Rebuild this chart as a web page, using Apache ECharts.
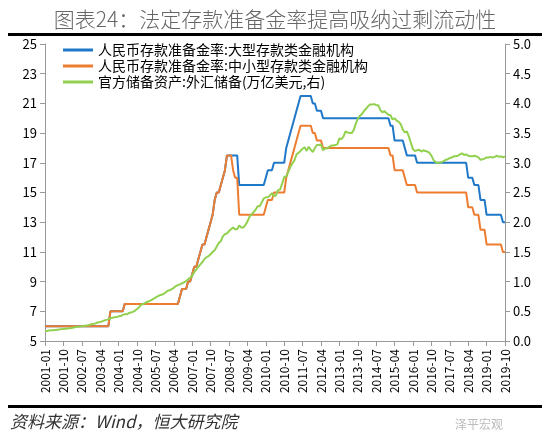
<!DOCTYPE html>
<html><head><meta charset="utf-8">
<script src="https://cdn.jsdelivr.net/npm/echarts@6/dist/echarts.min.js"></script>
<style>html,body{margin:0;padding:0;background:#fff}#c{width:550px;height:444px}</style>
</head><body><div id="c"></div>
<script>
// reserve ratio change points [month 'YYYY-MM', new value]
const largeChanges = [["2001-01",6],["2003-09",7],["2004-04",7.5],["2006-07",8],["2006-08",8.5],["2006-11",9],["2007-01",9.5],["2007-02",10],["2007-04",10.5],["2007-05",11],["2007-06",11.5],["2007-08",12],["2007-09",12.5],["2007-10",13],["2007-11",13.5],["2007-12",14.5],["2008-01",15],["2008-03",15.5],["2008-04",16],["2008-05",16.5],["2008-06",17.5],["2008-12",15.5],["2010-01",16],["2010-02",16.5],["2010-05",17],["2010-11",18],["2010-12",18.5],["2011-01",19],["2011-02",19.5],["2011-03",20],["2011-04",20.5],["2011-05",21],["2011-06",21.5],["2011-12",21],["2012-02",20.5],["2012-05",20],["2015-02",19.5],["2015-04",18.5],["2015-09",18],["2015-10",17.5],["2016-03",17],["2018-04",16],["2018-07",15.5],["2018-10",14.5],["2019-01",13.5],["2019-09",13]];
const smallChanges = [["2001-01",6],["2003-09",7],["2004-04",7.5],["2006-07",8],["2006-08",8.5],["2006-11",9],["2007-01",9.5],["2007-02",10],["2007-04",10.5],["2007-05",11],["2007-06",11.5],["2007-08",12],["2007-09",12.5],["2007-10",13],["2007-11",13.5],["2007-12",14.5],["2008-01",15],["2008-03",15.5],["2008-04",16],["2008-05",16.5],["2008-06",17.5],["2008-09",16.5],["2008-10",16],["2008-12",13.5],["2010-01",14],["2010-02",14.5],["2010-05",15],["2010-11",16],["2010-12",16.5],["2011-01",17],["2011-02",17.5],["2011-03",18],["2011-04",18.5],["2011-05",19],["2011-06",19.5],["2011-12",19],["2012-02",18.5],["2012-05",18],["2015-02",17.5],["2015-04",16.5],["2015-09",16],["2015-10",15.5],["2016-03",15],["2018-04",14],["2018-07",13.5],["2018-10",12.5],["2019-01",11.5],["2019-09",11]];
// FX reserves, trillion USD, monthly from 2001-01
const fxReserves = [
.17,.17,.175,.18,.18,.185,.19,.195,.2,.2,.205,.212,
.215,.22,.228,.235,.24,.242,.25,.255,.258,.265,.275,.286,
.292,.30,.316,.32,.33,.346,.356,.364,.384,.39,.40,.403,
.415,.42,.44,.45,.45,.47,.48,.49,.51,.54,.57,.61,
.623,.64,.66,.67,.69,.71,.73,.75,.77,.78,.79,.819,
.845,.853,.875,.895,.925,.941,.954,.972,.988,1.01,1.04,1.066,
1.10,1.16,1.20,1.25,1.29,1.33,1.38,1.41,1.43,1.46,1.50,1.528,
1.59,1.65,1.68,1.76,1.80,1.81,1.85,1.88,1.91,1.88,1.88,1.946,
1.91,1.91,1.95,2.01,2.09,2.13,2.17,2.21,2.27,2.27,2.33,2.399,
2.42,2.42,2.45,2.49,2.44,2.45,2.54,2.55,2.65,2.76,2.77,2.847,
2.93,2.99,3.04,3.14,3.17,3.20,3.24,3.26,3.20,3.27,3.22,3.18,
3.25,3.30,3.30,3.31,3.21,3.24,3.24,3.27,3.29,3.29,3.30,3.31,
3.41,3.40,3.44,3.53,3.51,3.50,3.50,3.55,3.66,3.74,3.79,3.82,
3.87,3.91,3.95,3.98,3.98,3.99,3.97,3.97,3.89,3.85,3.87,3.84,
3.81,3.80,3.73,3.75,3.71,3.69,3.65,3.56,3.51,3.53,3.44,3.33,
3.23,3.20,3.21,3.22,3.19,3.21,3.20,3.19,3.17,3.12,3.05,3.01,
2.998,3.005,3.009,3.03,3.05,3.06,3.08,3.09,3.11,3.11,3.12,3.14,
3.16,3.13,3.14,3.12,3.11,3.11,3.12,3.11,3.09,3.05,3.06,3.07,
3.09,3.09,3.10,3.09,3.10,3.12,3.10,3.11,3.09,3.11];
const seriesNames = ["人民币存款准备金率:大型存款类金融机构","人民币存款准备金率:中小型存款类金融机构","官方储备资产:外汇储备(万亿美元,右)"];

const months = [];
for (let y=2001;y<=2019;y++) for (let m=1;m<=12;m++){ if(y===2019&&m>10)break; months.push(y+'-'+String(m).padStart(2,'0')); }
function expand(ch){ let v=null,i=0; return months.map(mo=>{ while(i<ch.length&&ch[i][0]<=mo){v=ch[i][1];i++;} return v; }); }
const large=expand(largeChanges), small=expand(smallChanges);

const font='"Noto Sans CJK SC", sans-serif';
const chart=echarts.init(document.getElementById('c'));
chart.setOption({
  animation:false,
  title:{text:'图表24：法定存款准备金率提高吸纳过剩流动性',left:'center',top:4,textStyle:{fontFamily:font,fontSize:21,fontWeight:300,color:'#666'}},
  graphic:[
    {type:'rect',shape:{x:8,y:33,width:534,height:3},style:{fill:'#000'}},
    {type:'rect',shape:{x:8,y:405,width:534,height:3},style:{fill:'#000'}},
    {type:'text',left:10,top:413,style:{text:'资料来源：Wind，恒大研究院',font:'italic 17px '+font,fill:'#333'}},
    {type:'text',left:455,top:418,style:{text:'泽平宏观',font:'12px '+font,fill:'#bbb'}}
  ],
  legend:{orient:'vertical',left:58,top:38,itemGap:2,itemWidth:30,itemHeight:3,icon:'rect',
    textStyle:{fontFamily:font,fontSize:14,color:'#000'},data:seriesNames},
  grid:{left:45,right:45,top:44,height:297},
  xAxis:{type:'category',data:months,boundaryGap:false,
    axisLine:{lineStyle:{color:'#999'}},axisTick:{interval:8,lineStyle:{color:'#999'}},
    axisLabel:{interval:8,rotate:90,color:'#000',fontSize:12,fontFamily:font}},
  yAxis:[
    {type:'value',min:5,max:25,interval:2,splitLine:{show:false},axisLine:{show:true,lineStyle:{color:'#999'}},axisTick:{show:true,lineStyle:{color:'#999'}},axisLabel:{color:'#000',fontSize:13,fontFamily:font}},
    {type:'value',min:0,max:5,interval:0.5,splitLine:{show:false},axisLine:{show:true,lineStyle:{color:'#999'}},axisTick:{show:true,lineStyle:{color:'#999'}},axisLabel:{color:'#000',fontSize:13,fontFamily:font,formatter:v=>v.toFixed(1)}}
  ],
  series:[
    {name:seriesNames[0],type:'line',data:large,showSymbol:false,lineStyle:{width:2,color:'#1F78C8'},itemStyle:{color:'#1F78C8'}},
    {name:seriesNames[1],type:'line',data:small,showSymbol:false,lineStyle:{width:2,color:'#ED7D31'},itemStyle:{color:'#ED7D31'}},
    {name:seriesNames[2],type:'line',yAxisIndex:1,data:fxReserves,showSymbol:false,lineStyle:{width:2,color:'#92D050'},itemStyle:{color:'#92D050'}}
  ]
});
</script></body></html>
